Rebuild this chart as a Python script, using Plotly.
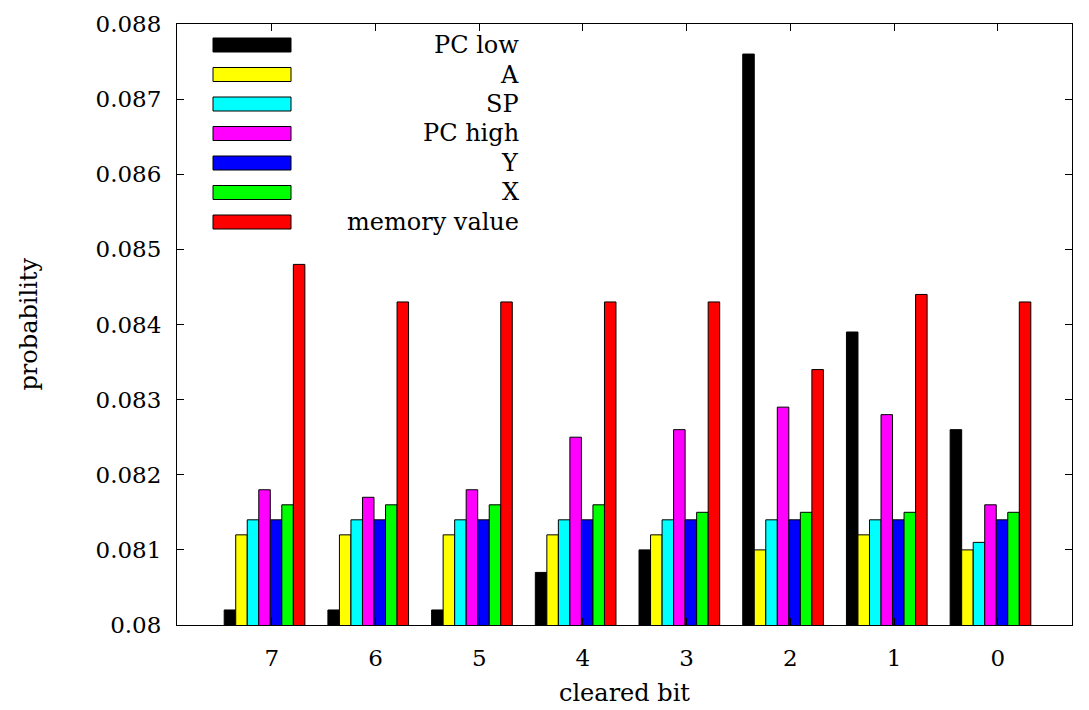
import plotly.graph_objects as go

categories = ["7", "6", "5", "4", "3", "2", "1", "0"]
series_names = ["PC low", "A", "SP", "PC high", "Y", "X", "memory value"]
series_colors = ["#000000", "#ffff00", "#00ffff", "#ff00ff", "#0000ff", "#00ff00", "#ff0000"]

pc_low = [0.0802, 0.0802, 0.0802, 0.0807, 0.0810, 0.0876, 0.0839, 0.0826]
reg_a = [0.0812, 0.0812, 0.0812, 0.0812, 0.0812, 0.0810, 0.0812, 0.0810]
reg_sp = [0.0814, 0.0814, 0.0814, 0.0814, 0.0814, 0.0814, 0.0814, 0.0811]
pc_high = [0.0818, 0.0817, 0.0818, 0.0825, 0.0826, 0.0829, 0.0828, 0.0816]
reg_y = [0.0814, 0.0814, 0.0814, 0.0814, 0.0814, 0.0814, 0.0814, 0.0814]
reg_x = [0.0816, 0.0816, 0.0816, 0.0816, 0.0815, 0.0815, 0.0815, 0.0815]
memory_value = [0.0848, 0.0843, 0.0843, 0.0843, 0.0843, 0.0834, 0.0844, 0.0843]

y_tickvals = [0.080, 0.081, 0.082, 0.083, 0.084, 0.085, 0.086, 0.087, 0.088]
y_ticktext = ["0.08", "0.081", "0.082", "0.083", "0.084", "0.085", "0.086", "0.087", "0.088"]

all_series = [pc_low, reg_a, reg_sp, pc_high, reg_y, reg_x, memory_value]
xpos = list(range(len(categories)))

FONT = "DejaVu Serif"

fig = go.Figure()
for name, color, vals in zip(series_names, series_colors, all_series):
    fig.add_trace(go.Bar(
        x=xpos, y=vals, name=name,
        marker=dict(color=color, line=dict(color="#000000", width=1)),
        showlegend=False,
    ))

# page offset (body margin) compensation
OFF = 8
FIG_W, FIG_H = 1089 - OFF, 710 - OFF
# plot area in window pixels
L, R, T, B = 177, 1072, 24, 625
W, H = R - L, B - T

def px_x(px):
    return (px - L) / W

def px_y(py):
    return (B - py) / H

shapes = []
annotations = []
for i, (name, color) in enumerate(zip(series_names, series_colors)):
    cy = 45 + i * 29.5
    shapes.append(dict(type="rect", xref="paper", yref="paper",
                       x0=px_x(213), x1=px_x(291), y0=px_y(cy + 7), y1=px_y(cy - 7),
                       fillcolor=color, line=dict(color="#000000", width=1)))
    annotations.append(dict(xref="paper", yref="paper", x=px_x(521), y=px_y(cy),
                            xanchor="right", yanchor="middle", showarrow=False,
                            text=name, font=dict(family=FONT, size=24, color="#000000")))

annotations.append(dict(xref="paper", yref="paper", x=px_x(28), y=0.5,
                        xanchor="center", yanchor="middle", showarrow=False, textangle=-90,
                        text="probability", font=dict(family=FONT, size=24, color="#000000")))
annotations.append(dict(xref="paper", yref="paper", x=0.5, y=px_y(693),
                        xanchor="center", yanchor="middle", showarrow=False,
                        text="cleared bit", font=dict(family=FONT, size=24, color="#000000")))

fig.update_layout(
    width=FIG_W, height=FIG_H,
    margin=dict(l=L - OFF, r=FIG_W - (R - OFF), t=T - OFF, b=FIG_H - (B - OFF)),
    paper_bgcolor="white", plot_bgcolor="white",
    barmode="group", bargap=2 / 9, bargroupgap=0,
    font=dict(family=FONT, size=23, color="#000000"),
    shapes=shapes, annotations=annotations,
    showlegend=False,
)
fig.update_xaxes(
    range=[-0.844, 7.786],
    tickmode="array", tickvals=[p + 0.07 for p in xpos], ticktext=categories,
    ticks="inside", ticklen=7, tickcolor="#000000",
    showline=True, linecolor="#000000", linewidth=1, mirror="allticks",
    showgrid=False, zeroline=False, ticklabelstandoff=12,
    automargin=False,
)
fig.update_yaxes(
    range=[0.08, 0.088],
    tickmode="array", tickvals=y_tickvals, ticktext=y_ticktext,
    ticks="inside", ticklen=7, tickcolor="#000000",
    showline=True, linecolor="#000000", linewidth=1, mirror="allticks",
    showgrid=False, zeroline=False, ticklabelstandoff=10,
    automargin=False,
)

fig.write_html("out.html")
